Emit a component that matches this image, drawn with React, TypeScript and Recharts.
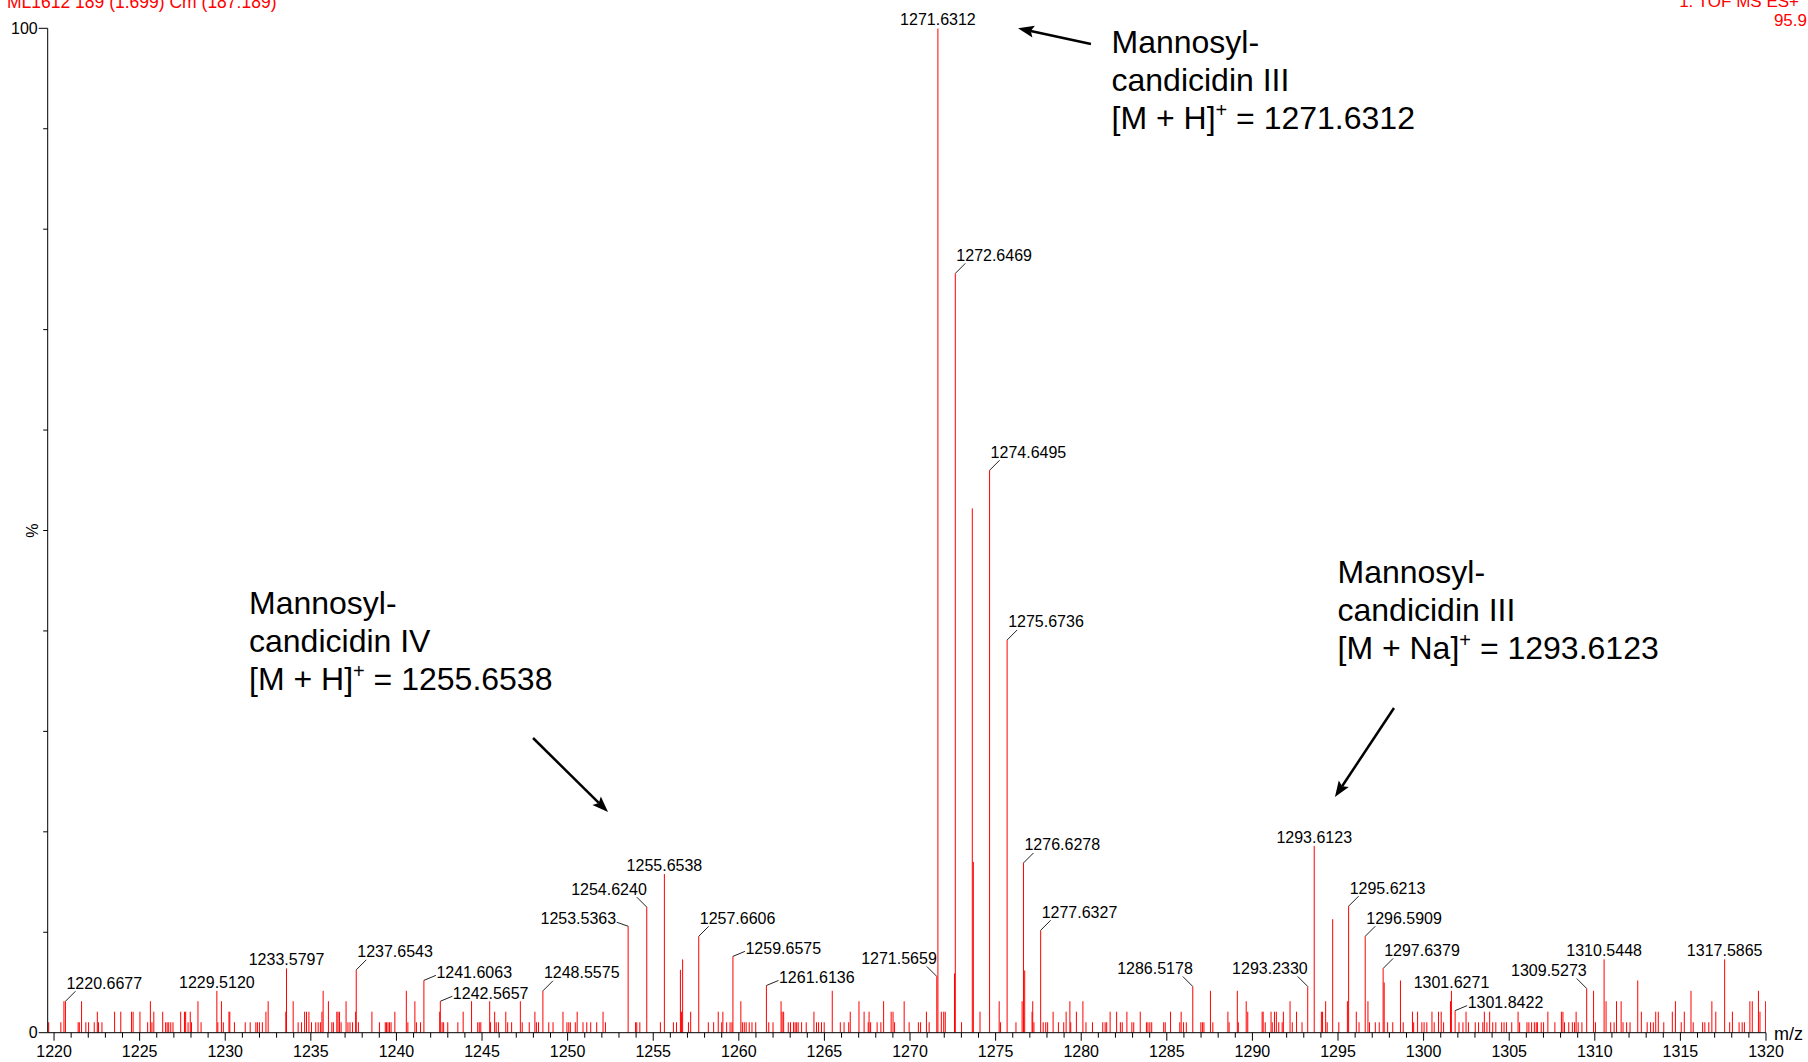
import React from 'react';
import { ComposedChart, Bar, XAxis, YAxis, ReferenceDot, ReferenceLine } from 'recharts';

const FONT = '"Liberation Sans", Arial, Helvetica, sans-serif';

// ---------- data ----------
const labeledMz = [
  1220.6677, 1229.512, 1233.5797, 1237.6543, 1241.6063, 1242.5657, 1248.5575,
  1253.5363, 1254.624, 1255.6538, 1257.6606, 1259.6575, 1261.6136,
  1271.5659, 1271.6312, 1272.6469, 1274.6495, 1275.6736, 1276.6278, 1277.6327,
  1286.5178, 1293.233, 1293.6123, 1295.6213, 1296.5909, 1297.6379,
  1301.6271, 1301.8422, 1309.5273, 1310.5448, 1317.5865,
];
const labeledPct = [
  3.13, 4.17, 6.4, 6.26, 5.21, 3.13, 4.17,
  10.6, 12.5, 15.8, 9.6, 7.6, 4.7,
  5.6, 100, 75.6, 56.0, 39.1, 16.9, 10.2,
  4.6, 4.6, 18.6, 12.6, 9.6, 6.4,
  4.17, 2.2, 4.4, 7.3, 7.3,
];
const labelText = [
  '1220.6677', '1229.5120', '1233.5797', '1237.6543', '1241.6063', '1242.5657', '1248.5575',
  '1253.5363', '1254.6240', '1255.6538', '1257.6606', '1259.6575', '1261.6136',
  '1271.5659', '1271.6312', '1272.6469', '1274.6495', '1275.6736', '1276.6278', '1277.6327',
  '1286.5178', '1293.2330', '1293.6123', '1295.6213', '1296.5909', '1297.6379',
  '1301.6271', '1301.8422', '1309.5273', '1310.5448', '1317.5865',
];
// label layout: c = centred, r = steep leader right, R = short leader right, l = steep leader left, L = short leader left
const labelPlacement = [
  'r', 'c', 'c', 'r', 'R', 'R', 'r',
  'L', 'l', 'c', 'r', 'R', 'R',
  'l', 'c', 'r', 'r', 'r', 'r', 'r',
  'l', 'l', 'c', 'r', 'r', 'r',
  'c', 'R', 'l', 'c', 'c',
];

// unlabelled sticks: [m/z, %]
const otherPeaks: [number, number][] = [
  [1219.69, 1.04], [1220.4, 1.04], [1220.58, 3.13], [1221.41, 1.04], [1221.48, 1.04], [1221.61, 3.13],
  [1221.86, 1.04], [1222.02, 1.04], [1222.35, 1.04], [1222.53, 2.09], [1222.6, 1.04], [1222.8, 1.04],
  [1223.54, 2.09], [1223.9, 2.09], [1224.53, 2.09], [1224.62, 2.09], [1225.02, 2.09], [1225.47, 1.04],
  [1225.63, 3.13], [1225.72, 1.04], [1225.83, 2.09], [1226.35, 2.09], [1226.52, 1.04], [1226.61, 1.04],
  [1226.7, 1.04], [1226.82, 1.04], [1226.95, 1.04], [1227.4, 2.09], [1227.62, 2.09], [1227.69, 2.09],
  [1227.83, 1.04], [1227.96, 2.09], [1228.03, 1.04], [1228.41, 3.13], [1228.59, 1.04], [1229.57, 1.04],
  [1229.78, 3.13], [1229.89, 1.04], [1230.22, 2.09], [1230.27, 2.09], [1230.54, 1.04], [1231.17, 1.04],
  [1231.46, 1.04], [1231.79, 1.04], [1231.88, 1.04], [1232.0, 1.04], [1232.17, 1.04], [1232.38, 2.09],
  [1232.51, 3.13], [1233.54, 2.09], [1233.97, 3.13], [1234.26, 1.04], [1234.46, 1.04], [1234.64, 2.09],
  [1234.75, 2.09], [1234.89, 2.09], [1235.04, 1.04], [1235.29, 1.04], [1235.43, 1.04], [1235.56, 1.04],
  [1235.65, 2.09], [1235.72, 4.17], [1236.03, 3.13], [1236.23, 1.04], [1236.32, 1.04], [1236.52, 2.09],
  [1236.59, 2.09], [1236.68, 2.09], [1236.77, 1.04], [1237.06, 3.13], [1237.17, 1.04], [1237.29, 1.04],
  [1237.44, 1.04], [1237.62, 2.09], [1237.78, 1.04], [1238.57, 2.09], [1239.01, 1.04], [1239.35, 1.04],
  [1239.42, 1.04], [1239.51, 1.04], [1239.6, 1.04], [1239.69, 1.04], [1239.91, 2.09], [1240.58, 4.17],
  [1240.67, 1.04], [1241.08, 3.13], [1241.17, 1.04], [1241.41, 1.04], [1242.53, 2.09], [1242.67, 1.04],
  [1242.76, 1.04], [1243.0, 1.04], [1243.59, 1.04], [1243.9, 2.09], [1244.39, 3.13], [1244.75, 1.04],
  [1244.84, 1.04], [1244.93, 1.04], [1245.45, 3.13], [1245.5, 1.04], [1245.74, 2.09], [1245.83, 1.04],
  [1245.96, 1.04], [1246.39, 2.09], [1246.5, 1.04], [1246.73, 1.04], [1247.24, 3.13], [1247.35, 1.04],
  [1247.76, 1.04], [1248.09, 2.09], [1248.18, 1.04], [1248.3, 1.04], [1248.9, 1.04], [1249.15, 1.04],
  [1249.73, 2.09], [1249.96, 1.04], [1250.07, 1.04], [1250.16, 1.04], [1250.45, 1.04], [1250.56, 2.09],
  [1250.9, 1.04], [1251.12, 1.04], [1251.35, 1.04], [1251.7, 1.04],
  [1252.07, 2.09], [1252.21, 1.04], [1253.97, 1.04], [1254.04, 1.04], [1254.22, 1.04], [1255.42, 1.04],
  [1256.18, 1.04], [1256.36, 1.04], [1256.59, 6.26], [1256.65, 2.09], [1256.72, 7.3], [1257.06, 1.04],
  [1257.19, 2.09], [1258.22, 1.04], [1258.53, 1.04], [1258.8, 2.09], [1259.0, 1.04], [1259.07, 2.09],
  [1259.29, 1.04], [1259.49, 1.04], [1259.6, 1.04], [1260.12, 3.13], [1260.21, 1.04], [1260.32, 1.04],
  [1260.43, 1.04], [1260.61, 1.04], [1260.77, 1.04], [1260.99, 1.04], [1261.75, 1.04], [1262.0, 1.04],
  [1262.47, 3.13], [1262.53, 2.09], [1262.62, 2.09], [1262.89, 1.04], [1263.02, 1.04], [1263.2, 1.04],
  [1263.29, 1.04], [1263.38, 1.04], [1263.47, 1.04], [1263.67, 1.04], [1263.94, 1.04], [1264.39, 2.09],
  [1264.54, 1.04], [1264.66, 1.04], [1264.83, 1.04], [1264.99, 1.04], [1265.46, 4.17], [1265.93, 1.04],
  [1266.15, 1.04], [1266.42, 1.04], [1266.51, 2.09], [1267.02, 3.13], [1267.32, 2.09], [1267.56, 1.04],
  [1267.61, 2.09], [1267.7, 1.04], [1268.08, 1.04], [1268.3, 1.04], [1268.46, 3.13], [1268.9, 2.09],
  [1269.01, 2.09], [1269.1, 1.04], [1269.66, 3.13], [1269.95, 1.04], [1270.49, 1.04], [1270.62, 1.04],
  [1270.96, 2.09], [1271.12, 1.04], [1271.83, 2.09], [1271.97, 2.09], [1272.06, 2.09], [1272.6, 5.9],
  [1273.01, 1.04], [1273.64, 52.2], [1273.7, 17.0], [1274.09, 2.09], [1275.21, 3.13], [1275.29, 1.04],
  [1276.19, 1.04], [1276.55, 3.13], [1276.7, 6.2], [1277.13, 2.09], [1277.17, 3.13], [1277.24, 1.04],
  [1277.78, 1.04], [1277.93, 1.04], [1278.04, 1.04], [1278.36, 2.09], [1278.67, 1.04], [1278.98, 1.04],
  [1279.12, 2.09], [1279.34, 3.13], [1279.39, 1.04], [1279.72, 2.09], [1280.1, 3.13], [1280.28, 1.04],
  [1280.66, 1.04], [1281.26, 1.04], [1281.4, 1.04], [1281.49, 1.04], [1281.69, 2.09], [1282.07, 2.09],
  [1282.29, 1.04], [1282.4, 1.04], [1282.67, 2.09], [1282.96, 1.04], [1283.07, 1.04], [1283.45, 2.09],
  [1283.81, 1.04], [1283.9, 1.04], [1284.01, 1.04], [1284.12, 1.04], [1284.82, 1.04], [1284.91, 1.04],
  [1285.22, 2.09], [1285.76, 1.04], [1285.84, 2.09], [1285.98, 1.04], [1286.14, 1.04],
  [1286.99, 1.04], [1287.08, 1.04], [1287.17, 1.04], [1287.55, 4.17], [1287.69, 1.04], [1288.57, 2.09],
  [1288.64, 1.04], [1289.12, 4.17], [1289.18, 1.04], [1289.64, 3.13], [1289.73, 2.09], [1290.57, 2.09],
  [1290.63, 2.09], [1290.75, 1.04], [1291.09, 2.09], [1291.16, 1.04], [1291.29, 2.09], [1291.4, 2.09],
  [1291.54, 1.04], [1291.74, 1.04], [1291.81, 2.09], [1292.2, 3.13], [1292.33, 1.04], [1292.58, 2.09],
  [1292.9, 1.04], [1294.03, 2.09], [1294.1, 2.09], [1294.28, 3.13], [1294.37, 1.04], [1294.69, 11.3],
  [1295.05, 1.04], [1295.55, 3.13], [1296.07, 2.09], [1296.23, 1.04], [1296.75, 3.13], [1296.84, 1.04],
  [1297.18, 1.04], [1297.41, 1.04], [1297.7, 5.0], [1297.9, 1.04], [1298.2, 1.04], [1298.65, 5.2],
  [1298.81, 1.04], [1299.35, 2.09], [1299.42, 1.04], [1299.65, 2.09], [1299.9, 1.04], [1300.03, 1.04],
  [1300.19, 1.04], [1300.49, 2.09], [1300.62, 1.04], [1300.87, 2.09], [1301.03, 2.09], [1301.17, 1.04],
  [1301.57, 3.13], [1302.07, 1.04], [1302.3, 1.04], [1302.48, 2.09], [1302.62, 1.04], [1303.02, 1.04],
  [1303.21, 1.04], [1303.46, 1.04], [1303.55, 2.09], [1303.7, 1.04], [1303.86, 2.09], [1304.04, 1.04],
  [1304.22, 1.04], [1304.56, 1.04], [1304.7, 1.04], [1304.84, 1.04], [1305.15, 1.04], [1305.52, 2.09],
  [1305.61, 1.04], [1306.04, 1.04], [1306.15, 1.04], [1306.31, 1.04], [1306.47, 1.04], [1306.58, 1.04],
  [1306.65, 1.04], [1306.87, 1.04], [1307.01, 1.04], [1307.26, 2.09], [1307.67, 1.04], [1308.05, 2.09],
  [1308.14, 2.09], [1308.23, 1.04], [1308.48, 1.04], [1308.69, 1.04], [1308.82, 1.04], [1308.91, 2.09],
  [1309.03, 1.04], [1309.25, 1.04], [1309.93, 4.17], [1310.04, 1.04], [1310.66, 3.13], [1310.93, 1.04],
  [1311.13, 1.04], [1311.27, 3.13], [1311.54, 3.13], [1311.65, 1.04], [1311.86, 1.04], [1312.06, 1.04],
  [1312.51, 5.2], [1312.72, 2.09], [1313.06, 1.04], [1313.26, 1.04], [1313.42, 1.04], [1313.56, 2.09],
  [1313.71, 2.09], [1314.03, 1.04], [1314.53, 2.09], [1314.71, 3.13], [1315.05, 1.04], [1315.23, 2.09],
  [1315.62, 4.17], [1315.75, 1.04], [1316.3, 1.04], [1316.43, 1.04], [1316.66, 1.04], [1316.84, 3.13],
  [1317.07, 2.09], [1317.88, 1.04], [1318.04, 2.09], [1318.43, 1.04], [1318.61, 1.04], [1318.74, 1.04],
  [1319.06, 3.13], [1319.2, 3.13], [1319.56, 4.17], [1319.65, 2.09], [1319.98, 3.13],
];

const xMajorTicks = [1220, 1225, 1230, 1235, 1240, 1245, 1250, 1255, 1260, 1265, 1270, 1275, 1280, 1285, 1290, 1295, 1300, 1305, 1310, 1315, 1320];
const yTicks = [0, 10, 20, 30, 40, 50, 60, 70, 80, 90, 100];
const yLabeledTicks = [0, 100];

const annotationTitle = ['Mannosyl-', 'Mannosyl-', 'Mannosyl-'];
const annotationName = ['candicidin III', 'candicidin IV', 'candicidin III'];
const annotationIon = ['[M + H]', '[M + H]', '[M + Na]'];
const annotationValue = ['1271.6312', '1255.6538', '1293.6123'];
const annotationAnchor: [number, number][] = [[1281.77, 97.54], [1231.39, 41.69], [1294.97, 44.77]];
const arrowFrom: [number, number][] = [[1280.57, 98.44], [1247.98, 29.34], [1298.27, 32.33]];
const arrowTo: [number, number][] = [[1276.31, 100], [1252.36, 21.97], [1294.82, 23.46]];

// ---------- table ----------
const data = [
  ...labeledMz.map((mz, i) => ({ mz, pct: labeledPct[i] })),
  ...otherPeaks.map(([mz, pct]) => ({ mz, pct })),
].sort((a, b) => a.mz - b.mz);

const xAllTicks: number[] = [];
for (let v = 1220; v <= 1320; v++) xAllTicks.push(v);

// ---------- renderers ----------
const Stick = (props: any) => {
  const { x, y, width, height } = props;
  if (x == null || y == null) return null;
  const cx = x + (width || 0) / 2;
  return <line x1={cx} x2={cx} y1={y} y2={y + height} stroke="#ff0000" strokeWidth={1} />;
};

const XTick = (props: any) => {
  const { x, y, payload } = props;
  const v = payload.value;
  const major = xMajorTicks.includes(v);
  return (
    <g>
      <line x1={x} x2={x} y1={y} y2={y + (major ? 8 : 5)} stroke="#000" strokeWidth={1} />
      {major && (
        <text x={x} y={y + 24} textAnchor="middle" fontSize={16} fontFamily={FONT} fill="#000">
          {v}
        </text>
      )}
    </g>
  );
};

const YTick = (props: any) => {
  const { x, y, payload } = props;
  const v = payload.value;
  const major = yLabeledTicks.includes(v);
  return (
    <g>
      <line x1={x} x2={x - (major ? 9 : 4.5)} y1={y} y2={y} stroke="#000" strokeWidth={1} />
      {major && (
        <text x={x - 10} y={y + 5.5} textAnchor="end" fontSize={16} fontFamily={FONT} fill="#000">
          {v}
        </text>
      )}
    </g>
  );
};

const renderPeakLabel = (cx: number, cy: number, text: string, place: string) => {
  const common = { fontSize: 16, fontFamily: FONT, fill: '#000' };
  const lc = '#222';
  if (place === 'c') {
    return <text x={cx} y={cy - 3} textAnchor="middle" {...common}>{text}</text>;
  }
  if (place === 'r') {
    return (
      <g>
        <line x1={cx} y1={cy} x2={cx + 10} y2={cy - 10} stroke={lc} strokeWidth={1} />
        <text x={cx + 1} y={cy - 12.5} textAnchor="start" {...common}>{text}</text>
      </g>
    );
  }
  if (place === 'R') {
    return (
      <g>
        <line x1={cx} y1={cy} x2={cx + 12} y2={cy - 5} stroke={lc} strokeWidth={1} />
        <text x={cx + 12.5} y={cy - 2.5} textAnchor="start" {...common}>{text}</text>
      </g>
    );
  }
  if (place === 'l') {
    return (
      <g>
        <line x1={cx} y1={cy} x2={cx - 10} y2={cy - 10} stroke={lc} strokeWidth={1} />
        <text x={cx} y={cy - 12.5} textAnchor="end" {...common}>{text}</text>
      </g>
    );
  }
  return (
    <g>
      <line x1={cx} y1={cy} x2={cx - 11.5} y2={cy - 4} stroke={lc} strokeWidth={1} />
      <text x={cx - 12} y={cy - 2.5} textAnchor="end" {...common}>{text}</text>
    </g>
  );
};

const renderArrow = (p: any) => {
  const { x1, y1, x2, y2 } = p;
  if ([x1, y1, x2, y2].some((v) => v == null || isNaN(v))) return null;
  const dx = x2 - x1;
  const dy = y2 - y1;
  const len = Math.sqrt(dx * dx + dy * dy) || 1;
  const ux = dx / len;
  const uy = dy / len;
  const hl = 16;
  const hw = 6;
  const bx = x2 - ux * hl;
  const by = y2 - uy * hl;
  const pts = `${x2},${y2} ${bx - uy * hw},${by + ux * hw} ${bx + ux * 3},${by + uy * 3} ${bx + uy * hw},${by - ux * hw}`;
  return (
    <g>
      <line x1={x1} y1={y1} x2={bx + ux * 3} y2={by + uy * 3} stroke="#000" strokeWidth={2.5} />
      <polygon points={pts} fill="#000" />
    </g>
  );
};

const renderAnnotation = (cx: number, cy: number, i: number) => (
  <text x={cx} y={cy} fontSize={32} fontFamily={FONT} fill="#000">
    <tspan x={cx} y={cy}>{annotationTitle[i]}</tspan>
    <tspan x={cx} y={cy + 38}>{annotationName[i]}</tspan>
    <tspan x={cx} y={cy + 76}>{annotationIon[i]}</tspan>
    <tspan dy={-12} fontSize={20}>+</tspan>
    <tspan dy={12}>{` = ${annotationValue[i]}`}</tspan>
  </text>
);

const PercentLabel = (props: any) => {
  const vb = props.viewBox || { x: 0, y: 28.3, width: 47.7, height: 1004.4 };
  const x = vb.x + 32;
  const y = vb.y + vb.height / 2;
  return (
    <text x={x} y={y} transform={`rotate(-90 ${x} ${y})`} textAnchor="middle" dominantBaseline="central" fontSize={16} fontFamily={FONT} fill="#000">
      %
    </text>
  );
};

const MzLabel = (props: any) => {
  const vb = props.viewBox || { x: 47.7, y: 1032.7, width: 1718.3, height: 29.3 };
  return (
    <text x={vb.x + vb.width + 8} y={vb.y + 7.5} fontSize={18} fontFamily={FONT} fill="#000">
      m/z
    </text>
  );
};

export default function App() {
  return (
    <div style={{ position: 'absolute', left: 0, top: 0, width: 1808, height: 1062, background: '#fff', overflow: 'hidden' }}>
      <ComposedChart
        width={1808}
        height={1062}
        data={data}
        margin={{ top: 28.3, right: 42, bottom: 0, left: 0 }}
        style={{ fontFamily: FONT }}
      >
        <XAxis
          dataKey="mz"
          type="number"
          domain={[1219.63, 1320]}
          allowDataOverflow
          ticks={xAllTicks}
          interval={0}
          tick={<XTick />}
          tickLine={false}
          tickSize={0}
          tickMargin={0}
          axisLine={{ stroke: '#000', strokeWidth: 1 }}
          height={29.3}
          label={MzLabel}
        />
        <YAxis
          type="number"
          domain={[0, 100]}
          allowDataOverflow
          ticks={yTicks}
          interval={0}
          tick={<YTick />}
          tickLine={false}
          tickSize={0}
          tickMargin={0}
          axisLine={{ stroke: '#000', strokeWidth: 1 }}
          width={47.7}
          label={PercentLabel}
        />
        <Bar dataKey="pct" barSize={1} isAnimationActive={false} shape={Stick} />
        {labeledMz.map((mz, i) => (
          <ReferenceDot
            key={`lbl-${i}`}
            x={mz}
            y={labeledPct[i]}
            r={0}
            ifOverflow="visible"
            shape={(p: any) => renderPeakLabel(p.cx, p.cy, labelText[i], labelPlacement[i])}
          />
        ))}
        {arrowFrom.map((f, i) => (
          <ReferenceLine
            key={`arr-${i}`}
            segment={[{ x: f[0], y: f[1] }, { x: arrowTo[i][0], y: arrowTo[i][1] }]}
            ifOverflow="visible"
            shape={renderArrow}
          />
        ))}
        {annotationAnchor.map((a, i) => (
          <ReferenceDot
            key={`ann-${i}`}
            x={a[0]}
            y={a[1]}
            r={0}
            ifOverflow="visible"
            shape={(p: any) => renderAnnotation(p.cx, p.cy, i)}
          />
        ))}
      </ComposedChart>
      <svg width={1808} height={40} style={{ position: 'absolute', left: 0, top: 0, pointerEvents: 'none' }}>
        <text x={7} y={8.3} fontSize={17.5} fontFamily={FONT} fill="#ff0000">ML1612 189 (1.699) Cm (187:189)</text>
        <text x={1799} y={7} fontSize={17} fontFamily={FONT} fill="#ff0000" textAnchor="end">1: TOF MS ES+</text>
        <text x={1807} y={26} fontSize={17} fontFamily={FONT} fill="#ff0000" textAnchor="end">95.9</text>
      </svg>
    </div>
  );
}
